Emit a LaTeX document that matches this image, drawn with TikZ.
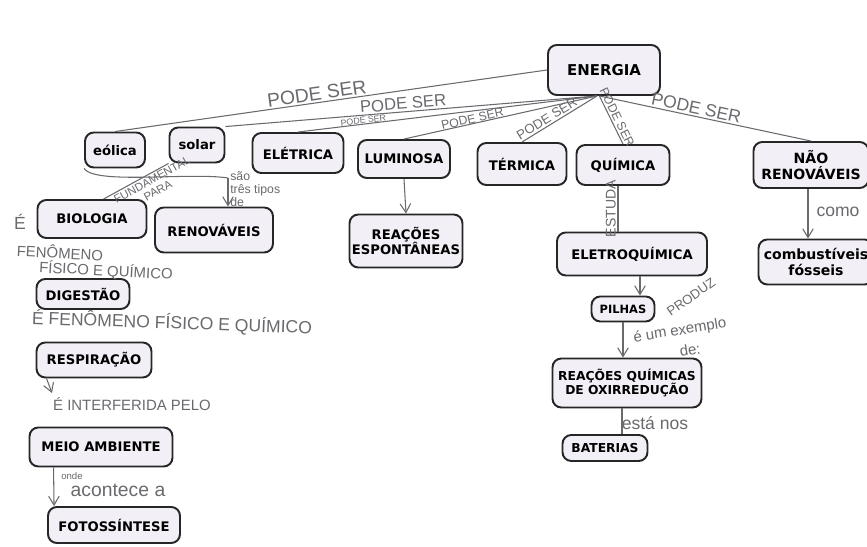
\documentclass[tikz,border=0pt]{standalone}
\usepackage{fontspec}
\usetikzlibrary{arrows.meta}
\newfontfamily\boxfont{DejaVu Sans}
\newfontfamily\handfont{Liberation Sans}
\definecolor{boxfill}{RGB}{242,239,246}
\definecolor{pencil}{RGB}{105,105,110}
\begin{document}
\begin{tikzpicture}[x=0.02cm, y=-0.02cm,
  box/.style={draw=black!85, line width=1.1pt, rounded corners=5pt, fill=boxfill,
    font=\boxfont\bfseries\fontsize{7.5}{8.5}\selectfont, align=center, inner sep=1pt},
  link/.style={draw=pencil, line width=0.6pt},
  arr/.style={link, -{Straight Barb[length=5pt,width=6pt]}},
  hand/.style={text=pencil, font=\handfont\fontsize{8}{9}\selectfont, inner sep=1pt}]
  \useasboundingbox (0,0) rectangle (867,547);

  % Top concept
  \node[box, minimum width=2.24cm, minimum height=1.0cm,
    font=\boxfont\bfseries\fontsize{8.5}{10}\selectfont] (energia) at (604,70) {ENERGIA};

  % Kinds of energy
  \node[box, minimum width=1.2cm, minimum height=0.7cm] (eolica) at (115,150) {eólica};
  \node[box, minimum width=1.1cm, minimum height=0.7cm] (solar) at (197,145) {solar};
  \node[box, minimum width=1.82cm, minimum height=0.8cm] (eletrica) at (298,153) {ELÉTRICA};
  \node[box, minimum width=1.84cm, minimum height=0.76cm] (luminosa) at (404,159) {LUMINOSA};
  \node[box, minimum width=1.78cm, minimum height=0.84cm] (termica) at (522,164) {TÉRMICA};
  \node[box, minimum width=1.86cm, minimum height=0.8cm] (quimica) at (623,165) {QUÍMICA};
  \node[box, minimum width=2.3cm, minimum height=0.92cm,
    font=\boxfont\bfseries\fontsize{8}{9.5}\selectfont] (naorenov) at (811,165) {NÃO\\RENOVÁVEIS};

  \draw[link] (energia.west) -- node[hand, above, sloped, pos=0.53, font=\handfont\fontsize{11}{12}\selectfont] {PODE SER} (eolica.north);
  \draw[link] (energia.-105) -- node[hand, above, sloped, pos=0.52, font=\handfont\fontsize{9.5}{10}\selectfont] {PODE SER} (solar.north east);
  \draw[link] (energia.-105) -- node[hand, above, sloped, pos=0.78, inner sep=0pt, font=\handfont\fontsize{5}{6}\selectfont] {PODE SER} (eletrica.north);
  \draw[link] (energia.-105) -- node[hand, above, sloped, pos=0.64, inner sep=0pt, font=\handfont\fontsize{7}{8}\selectfont] {PODE SER} (luminosa.north);
  \draw[link] (energia.-105) -- node[hand, above, sloped, pos=0.62, font=\handfont\fontsize{7.5}{8}\selectfont] {PODE SER} (termica.north);
  \draw[link] (energia.-100) -- node[hand, above, sloped, pos=0.5, font=\handfont\fontsize{7}{8}\selectfont] {PODE SER} (quimica.north);
  \draw[link] (energia.-100) -- node[hand, above, sloped, pos=0.45, font=\handfont\fontsize{10}{11}\selectfont] {PODE SER} (naorenov.north);

  % Left branch
  \node[box, minimum width=2.18cm, minimum height=0.76cm] (biologia) at (92,219) {BIOLOGIA};
  \node[box, minimum width=2.36cm, minimum height=0.9cm] (renovaveis) at (214,230) {RENOVÁVEIS};
  \node[box, minimum width=1.86cm, minimum height=0.6cm] (digestao) at (83,294) {DIGESTÃO};
  \node[box, minimum width=2.3cm, minimum height=0.7cm] (respiracao) at (94,360) {RESPIRAÇÃO};
  \node[box, minimum width=2.86cm, minimum height=0.78cm] (meio) at (101,447) {MEIO AMBIENTE};
  \node[box, minimum width=2.64cm, minimum height=0.72cm] (foto) at (114,525) {FOTOSSÍNTESE};

  \coordinate (tipos) at (228,178);
  \draw[link] (eolica.south west) .. controls (95,185) and (190,172) .. (tipos);
  \draw[arr] (tipos) -- node[hand, right, pos=0.4, align=left, font=\handfont\fontsize{7}{7.5}\selectfont] {são\\três tipos\\de} (renovaveis.north -| tipos);
  \draw[link] (biologia.60) -- node[hand, below, sloped, pos=0.7, align=center, font=\handfont\fontsize{6.5}{7}\selectfont] {FUNDAMENTAL\\PARA} (solar.south west);

  \node[hand, font=\handfont\fontsize{10}{11}\selectfont] (e1) at (20,222) {É};
  \node[hand, rotate=-3, font=\handfont\fontsize{8.5}{10}\selectfont] (fen1) at (60,252) {FENÔMENO};
  \node[hand, rotate=-3, font=\handfont\fontsize{8.5}{10}\selectfont] (fen1b) at (106,271) {FÍSICO E QUÍMICO};
  \node[hand, rotate=-2, font=\handfont\fontsize{10}{11}\selectfont] (fen2) at (172,323) {É FENÔMENO FÍSICO E QUÍMICO};

  \coordinate (respend) at (52,393);
  \draw[arr] ([xshift=0.22cm]respiracao.south west) -- (respend);
  \node[hand, font=\handfont\fontsize{8.5}{9}\selectfont] (interf) at (132,404) {É INTERFERIDA PELO};

  \draw[arr] ([xshift=0.5cm]meio.south west) -- ([xshift=0.14cm]foto.north west);
  \node[hand, font=\handfont\fontsize{5.5}{6}\selectfont] (onde) at (72,476) {onde};
  \node[hand, font=\handfont\fontsize{11}{12}\selectfont] (acontece) at (118,490) {acontece a};

  % Middle branch
  \node[box, minimum width=2.26cm, minimum height=1.06cm] (espont) at (406,241) {REAÇÕES\\ESPONTÂNEAS};
  \draw[arr] (luminosa.south) -- (espont.north);

  % Right branch
  \node[box, minimum width=3.0cm, minimum height=0.86cm] (eletro) at (632,254) {ELETROQUÍMICA};
  \node[box, minimum width=1.26cm, minimum height=0.5cm,
    font=\boxfont\bfseries\fontsize{6.5}{7.5}\selectfont] (pilhas) at (623,309) {PILHAS};
  \node[box, minimum width=2.98cm, minimum height=0.98cm,
    font=\boxfont\bfseries\fontsize{7}{8}\selectfont] (oxirred) at (627,383) {REAÇÕES QUÍMICAS\\DE OXIRREDUÇÃO};
  \node[box, minimum width=1.7cm, minimum height=0.52cm,
    font=\boxfont\bfseries\fontsize{7}{8}\selectfont] (baterias) at (605,448) {BATERIAS};
  \node[box, minimum width=2.3cm, minimum height=0.9cm,
    font=\boxfont\bfseries\fontsize{8}{9.5}\selectfont] (combust) at (816,262) {combustíveis\\fósseis};

  \draw[link] ([xshift=-0.1cm]quimica.south) -- node[hand, rotate=90, anchor=south, font=\handfont\fontsize{8}{9}\selectfont] {ESTUDA} ([xshift=-0.1cm]quimica.south |- eletro.north);
  \draw[arr] ([xshift=0.16cm]eletro.south) -- ([xshift=0.16cm]eletro.south |- pilhas.north);
  \node[hand, rotate=35, font=\handfont\fontsize{7.5}{9}\selectfont] (produz) at (691,297) {PRODUZ};
  \draw[arr] (pilhas.south) -- (pilhas.south |- oxirred.north);
  \node[hand, rotate=9, font=\handfont\fontsize{8.5}{10}\selectfont] (exemplo) at (680,331) {é um exemplo};
  \node[hand, rotate=9, font=\handfont\fontsize{8.5}{10}\selectfont] (exemplode) at (690,350) {de:};
  \draw[link] ([xshift=-0.1cm]oxirred.south) -- ([xshift=-0.1cm]oxirred.south |- baterias.north);
  \node[hand, font=\handfont\fontsize{10}{11}\selectfont] (esta) at (655,423) {está nos};
  \draw[arr] ([xshift=-0.06cm]naorenov.south) -- ([xshift=-0.06cm]naorenov.south |- combust.north);
  \node[hand, font=\handfont\fontsize{10}{11}\selectfont] (como) at (838,212) {como};
\end{tikzpicture}
\end{document}
